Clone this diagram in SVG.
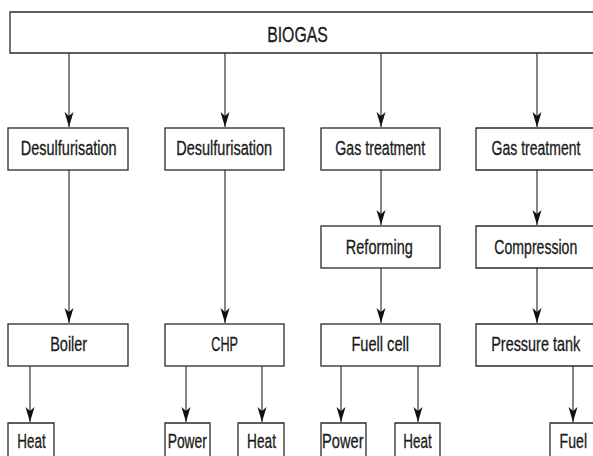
<svg xmlns="http://www.w3.org/2000/svg" width="593" height="456" viewBox="0 0 593 456">
<defs>
<marker id="ah" markerUnits="userSpaceOnUse" markerWidth="10" markerHeight="16" refX="4.5" refY="15" orient="0" viewBox="0 0 9 16">
<path d="M0,0 L4.5,4 L9,0 L4.5,15 Z" fill="#111"/>
</marker>
<style>
.box{fill:#fff;stroke:#2a2a2a;stroke-width:1.3}
.lbl{font-family:"Liberation Sans",Arial,sans-serif;font-size:19.5px;fill:#1a1a1a;stroke:#1a1a1a;stroke-width:0.3;text-anchor:middle}
.big{font-size:22px}
.con line{stroke:#444;stroke-width:1.3;marker-end:url(#ah)}
</style>
</defs>
<rect width="593" height="456" fill="#fff"/>
<g class="con" id="connectors">
<line x1="69" y1="53" x2="69" y2="127"/>
<line x1="225" y1="53" x2="225" y2="127"/>
<line x1="381" y1="53" x2="381" y2="127"/>
<line x1="537" y1="53" x2="537" y2="127"/>
<line x1="69" y1="170" x2="69" y2="323"/>
<line x1="225" y1="170" x2="225" y2="323"/>
<line x1="381" y1="170" x2="381" y2="225"/>
<line x1="537" y1="170" x2="537" y2="225"/>
<line x1="381" y1="268" x2="381" y2="323"/>
<line x1="537" y1="268" x2="537" y2="323"/>
<line x1="30" y1="366" x2="30" y2="422"/>
<line x1="186" y1="366" x2="186" y2="422"/>
<line x1="262" y1="366" x2="262" y2="422"/>
<line x1="341" y1="366" x2="341" y2="422"/>
<line x1="418" y1="366" x2="418" y2="422"/>
<line x1="573" y1="366" x2="573" y2="422"/>
</g>
<g id="biogas"><path class="box" d="M593,12 H10 V53 H593"/><text class="lbl big" transform="translate(297.5,42) scale(0.72,1)">BIOGAS</text></g>
<g id="desulf1"><rect class="box" x="8" y="128" width="120" height="42"/><text class="lbl" transform="translate(68.7,155) scale(0.744,1)">Desulfurisation</text></g>
<g id="desulf2"><rect class="box" x="165" y="128" width="119" height="42"/><text class="lbl" transform="translate(224.2,155) scale(0.744,1)">Desulfurisation</text></g>
<g id="gastreat1"><rect class="box" x="321" y="128" width="119" height="42"/><text class="lbl" transform="translate(380.2,155) scale(0.728,1)">Gas treatment</text></g>
<g id="gastreat2"><path class="box" d="M593,128 H476 V170 H593"/><text class="lbl" transform="translate(536,155) scale(0.72,1)">Gas treatment</text></g>
<g id="reforming"><rect class="box" x="321" y="226" width="119" height="42"/><text class="lbl" transform="translate(379.3,254) scale(0.745,1)">Reforming</text></g>
<g id="compression"><path class="box" d="M593,226 H476 V268 H593"/><text class="lbl" transform="translate(535.8,254) scale(0.722,1)">Compression</text></g>
<g id="boiler"><rect class="box" x="8" y="324" width="120" height="42"/><text class="lbl" transform="translate(68.7,351) scale(0.743,1)">Boiler</text></g>
<g id="chp"><rect class="box" x="165" y="324" width="119" height="42"/><text class="lbl" transform="translate(224.7,351) scale(0.65,1)">CHP</text></g>
<g id="fuelcell"><rect class="box" x="321" y="324" width="119" height="42"/><text class="lbl" transform="translate(380.2,351) scale(0.75,1)">Fuell cell</text></g>
<g id="pressuretank"><path class="box" d="M593,324 H476 V366 H593"/><text class="lbl" transform="translate(535.7,351) scale(0.74,1)">Pressure tank</text></g>
<g id="heat1"><path class="box" d="M8,456 V423 H54 V456"/><text class="lbl" transform="translate(31.5,448) scale(0.69,1)">Heat</text></g>
<g id="power1"><path class="box" d="M165,456 V423 H210 V456"/><text class="lbl" transform="translate(187.3,448) scale(0.71,1)">Power</text></g>
<g id="heat2"><path class="box" d="M238,456 V423 H284 V456"/><text class="lbl" transform="translate(261.5,448) scale(0.7,1)">Heat</text></g>
<g id="power2"><path class="box" d="M321,456 V423 H366 V456"/><text class="lbl" transform="translate(342.8,448) scale(0.75,1)">Power</text></g>
<g id="heat3"><path class="box" d="M395,456 V423 H440 V456"/><text class="lbl" transform="translate(417.5,448) scale(0.69,1)">Heat</text></g>
<g id="fuel"><path class="box" d="M550,456 V423 H593"/><text class="lbl" transform="translate(573.3,448) scale(0.725,1)">Fuel</text></g>
</svg>
